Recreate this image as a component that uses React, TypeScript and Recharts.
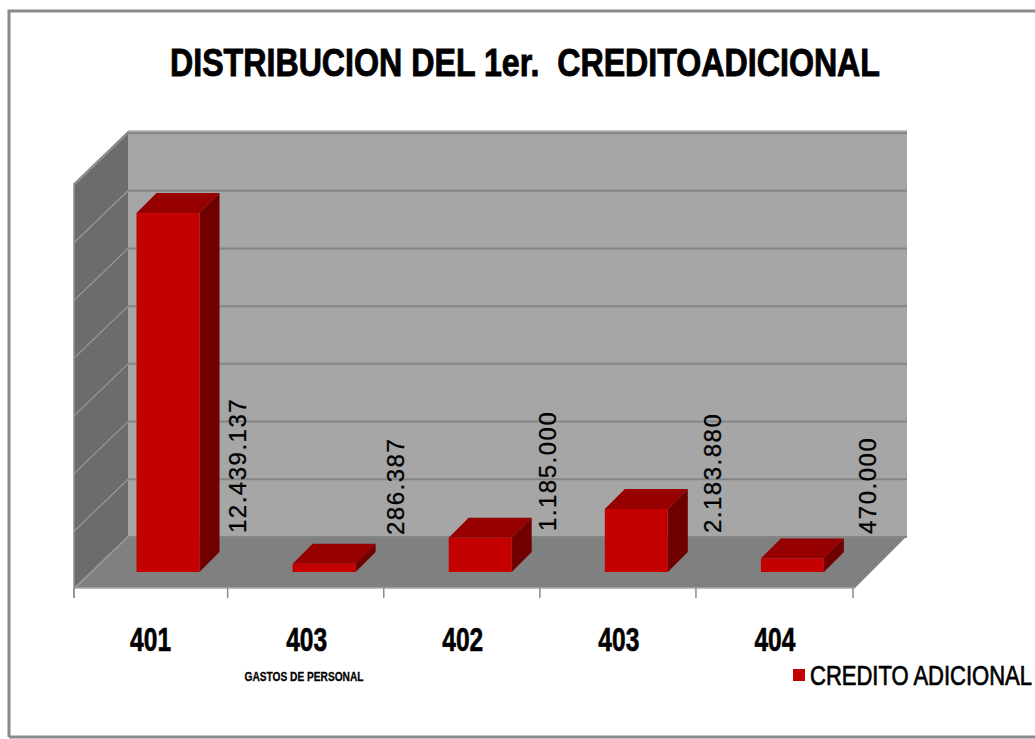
import React from "react";
import { BarChart, Bar, XAxis, YAxis, CartesianGrid, Legend, LabelList } from "recharts";

const categories = ["401", "403", "402", "403", "404"];
const values = [12439137, 286387, 1185000, 2183880, 470000];
const valueLabels = ["12.439.137", "286.387", "1.185.000", "2.183.880", "470.000"];
const yTicks = [0, 2000000, 4000000, 6000000, 8000000, 10000000, 12000000, 14000000];
const titleText = "DISTRIBUCION DEL 1er.  CREDITOADICIONAL";
const axisTitle = "GASTOS DE PERSONAL";
const seriesName = "CREDITO ADICIONAL";

const rows = categories.map((c, i) => ({ c, v: values[i], label: valueLabels[i] }));

const FONT = "'Liberation Sans', Arial, sans-serif";
const DEPTH = 20;
const LABEL_DX = [1, 3, -1, 8, 7];
const LABEL_DY = [0, 2, -2, 0, 1];

function Walls() {
  return (
    <svg width={1035} height={739} style={{ position: "absolute", left: 0, top: 0 }}>
      <polyline points="9,737 9,11 1035,11" fill="none" stroke="#8a8a8a" strokeWidth={3} />
      <polyline points="9,737 1035,737" fill="none" stroke="#8a8a8a" strokeWidth={3} />
      <polygon points="128,131 907,131 907,536 128,536" fill="#a6a6a6" />
      <polygon points="74,183 128,131 128,536 74,588" fill="#6c6c6c" />
      <polygon points="74,588 128,536 907,536 855,588" fill="#808080" />
      <line x1={128} y1={131} x2={907} y2={131} stroke="#b0b0b0" strokeWidth={1.5} />
      <line x1={74} y1={183} x2={74} y2={598} stroke="#8c8c8c" strokeWidth={1.5} />
      <line x1={74} y1={588} x2={855} y2={588} stroke="#a8a8a8" strokeWidth={1.5} />
    </svg>
  );
}

function Titles() {
  return (
    <g>
      <text x={525} y={76} fontFamily={FONT} fontWeight={700} fontSize={38} textAnchor="middle" textLength={710} lengthAdjust="spacingAndGlyphs" stroke="#000" strokeWidth={0.9} fill="#000" style={{ whiteSpace: "pre" }}>{titleText}</text>
      <text x={304} y={681} fontFamily={FONT} fontWeight={700} fontSize={13} textAnchor="middle" textLength={119} lengthAdjust="spacingAndGlyphs" stroke="#000" strokeWidth={0.3} fill="#000">{axisTitle}</text>
    </g>
  );
}

function gridLine(p: any) {
  const y = p.y1;
  return (
    <g key={p.key ?? y}>
      <line x1={128} y1={y - 35} x2={907} y2={y - 35} stroke="#858585" strokeWidth={2} />
      <line x1={74} y1={y + 17} x2={128} y2={y - 35} stroke="#9a9a9a" strokeWidth={1.2} />
    </g>
  );
}

function Prism(p: any) {
  const { x, y, width: w, height: h } = p;
  return (
    <g>
      <polygon points={`${x},${y} ${x + DEPTH},${y - DEPTH} ${x + w + DEPTH},${y - DEPTH} ${x + w},${y}`} fill="#960000" />
      <polygon points={`${x + w},${y} ${x + w + DEPTH},${y - DEPTH} ${x + w + DEPTH},${y + h - DEPTH} ${x + w},${y + h}`} fill="#700000" />
      <rect x={x} y={y} width={w} height={h} fill="#c40000" />
    </g>
  );
}

function ValueLabel(p: any) {
  const { x, width, index } = p;
  const px = x + width / 2 + 76.5 + LABEL_DX[index];
  const py = 533 + LABEL_DY[index];
  return (
    <text x={px} y={py} transform={`rotate(-90 ${px} ${py})`} fontFamily={FONT} fontSize={24} letterSpacing={1.5} stroke="#000" strokeWidth={0.3} fill="#000">
      {valueLabels[index]}
    </text>
  );
}

function CatTick(p: any) {
  const { x, index, payload } = p;
  const left = index === 0 ? 74 : x - 96;
  return (
    <g>
      <line x1={left} y1={588} x2={left} y2={598} stroke="#8c8c8c" strokeWidth={1.5} />
      {index === categories.length - 1 && (
        <line x1={x + 61} y1={588} x2={x + 61} y2={598} stroke="#8c8c8c" strokeWidth={1.5} />
      )}
      <text x={x - 17} y={651} fontFamily={FONT} fontWeight={700} fontSize={33} textAnchor="middle" textLength={41} lengthAdjust="spacingAndGlyphs" stroke="#000" strokeWidth={0.6} fill="#000">{payload.value}</text>
    </g>
  );
}

function LegendBox() {
  return (
    <svg width={250} height={40} style={{ display: "block" }}>
      <rect x={8} y={14} width={12} height={12} fill="#c40000" />
      <text transform="translate(25 30) scale(0.815 1)" fontFamily={FONT} fontSize={27} stroke="#000" strokeWidth={0.7} fill="#000">{seriesName}</text>
    </svg>
  );
}

export default function App() {
  return (
    <div style={{ position: "absolute", left: 0, top: 0, width: 1035, height: 739, background: "#fff" }}>
      <Walls />
      <BarChart
        width={1035}
        height={739}
        data={rows}
        barSize={63}
        margin={{ left: 89.5, right: 165, top: 168, bottom: 97 }}
      >
        <Titles />
        <CartesianGrid vertical={false} horizontal={gridLine} />
        <XAxis dataKey="c" axisLine={false} tickLine={false} height={30} tick={CatTick} interval={0} />
        <YAxis hide domain={[0, 14000000]} ticks={yTicks} />
        <Legend
          content={LegendBox}
          wrapperStyle={{ position: "absolute", left: 785, top: 655, width: 250, height: 40 }}
        />
        <Bar dataKey="v" name={seriesName} fill="#c40000" isAnimationActive={false} shape={Prism}>
          <LabelList dataKey="label" content={ValueLabel} />
        </Bar>
      </BarChart>
    </div>
  );
}
